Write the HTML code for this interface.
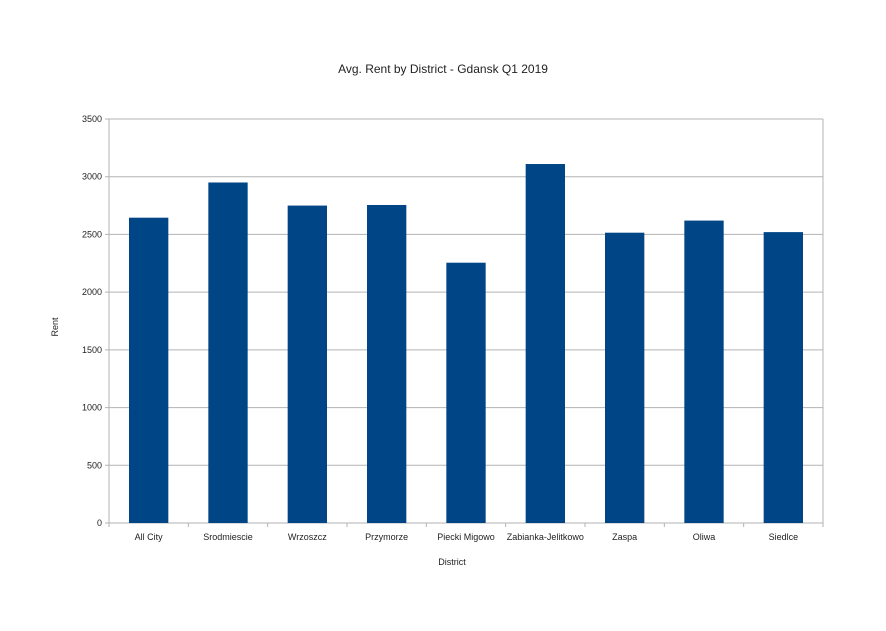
<!DOCTYPE html>
<html><head><meta charset="utf-8"><style>
body{margin:0;background:#fff;}
svg text{font-family:"Liberation Sans",sans-serif;fill:#222;}
</style></head><body>
<svg id="chart" width="886" height="626" xmlns="http://www.w3.org/2000/svg">
<text x="443" y="73" font-size="12" text-anchor="middle">Avg. Rent by District - Gdansk Q1 2019</text>
<text x="0" y="0" font-size="9" text-anchor="middle" transform="translate(58,327) rotate(-90)">Rent</text>
<text x="452" y="565" font-size="9" text-anchor="middle">District</text>
<g id="grid"></g><g id="bars"></g><g id="axes"></g>
</svg>
<script>
const categories=["All City","Srodmiescie","Wrzoszcz","Przymorze","Piecki Migowo","Zabianka-Jelitkowo","Zaspa","Oliwa","Siedlce"];
const rentValues=[2645,2950,2750,2755,2255,3110,2515,2620,2520];
const yTicks=[0,500,1000,1500,2000,2500,3000,3500];
const L=109,R=823,T=119,B=523,YMAX=3500;
const NS="http://www.w3.org/2000/svg";
const y=v=>B-(v/YMAX)*(B-T);
const cw=(R-L)/categories.length;
const x=i=>L+i*cw;
function mk(tag,attrs,parent){const e=document.createElementNS(NS,tag);for(const k in attrs)e.setAttribute(k,attrs[k]);parent.appendChild(e);return e;}
const grid=document.getElementById('grid'),bars=document.getElementById('bars'),axes=document.getElementById('axes');
yTicks.forEach(t=>{
  const g=mk('line',{x1:L-4,x2:R,y1:y(t),y2:y(t),stroke:'#b3b3b3','stroke-width':1},grid);
  
  
  const tx=mk('text',{x:L-7,y:y(t)+3,'font-size':9,'text-anchor':'end'},grid);
  tx.textContent=t;
  
  
});
rentValues.forEach((v,i)=>{
  const r=mk('rect',{x:x(i)+20,y:y(v),width:cw-40,height:B-y(v),fill:'#004586'},bars);
  
  
  const tx=mk('text',{x:x(i)+cw/2,y:B+17,'font-size':9,'text-anchor':'middle'},axes);
  tx.textContent=categories[i];
  
  
});
for(let i=0;i<=categories.length;i++){
  const tk=mk('line',{x1:x(i),x2:x(i),y1:B,y2:B+4,stroke:'#b3b3b3'},axes);
  
  
}
const ya=mk('line',{x1:L,x2:L,y1:T,y2:B,stroke:'#b3b3b3'},axes);


const yr=mk('line',{x1:R,x2:R,y1:T,y2:B,stroke:'#b3b3b3'},axes);


</script>
</body></html>
